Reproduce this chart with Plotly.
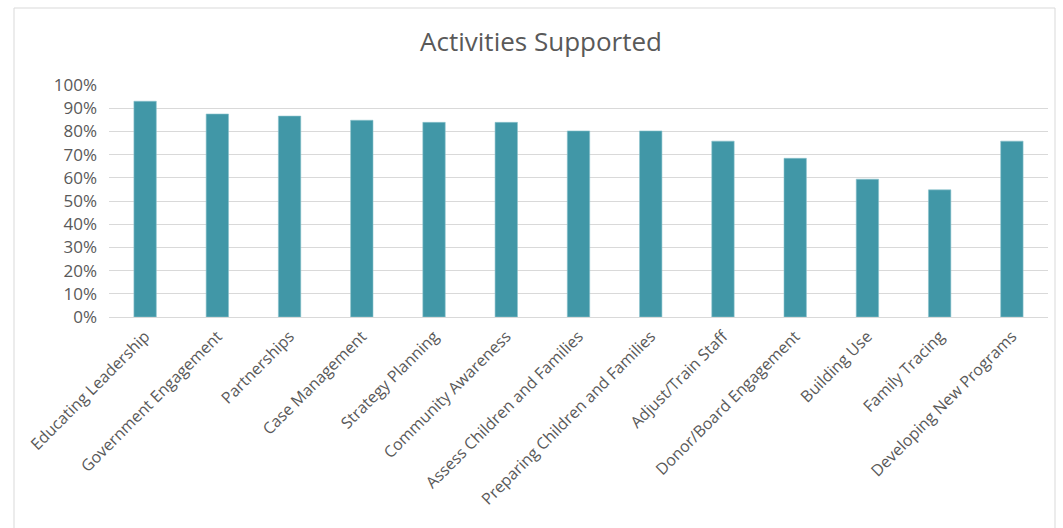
import plotly.graph_objects as go

categories = ["Educating Leadership", "Government Engagement", "Partnerships", "Case Management",
              "Strategy Planning", "Community Awareness", "Assess Children and Families",
              "Preparing Children and Families", "Adjust/Train Staff", "Donor/Board Engagement",
              "Building Use", "Family Tracing", "Developing New Programs"]
values = [0.93, 0.875, 0.866, 0.848, 0.839, 0.839, 0.802, 0.802, 0.758, 0.684, 0.594, 0.548, 0.758]
y_ticks = [i / 10 for i in range(11)]

fig = go.Figure(go.Bar(
    x=categories, y=values,
    marker=dict(color="#4197a7", line=dict(color="#8cc3cd", width=0.6)),
    hoverinfo="x+y",
))

fig.update_layout(
    width=1063, height=528,
    margin=dict(l=109, r=15, t=85, b=211),
    paper_bgcolor="white", plot_bgcolor="white",
    title=dict(text="Activities Supported", x=0.509, xanchor="center", y=0.92, yanchor="middle",
               font=dict(family="Open Sans", size=26, color="#595959")),
    bargap=0.69,
    showlegend=False,
    font=dict(family="Open Sans", color="#595959"),
    shapes=[dict(type="rect", xref="paper", yref="paper",
                 x0=-95/939, x1=1055/939 - 109/939, y0=-220/232, y1=(317 - 8) / 232,
                 line=dict(color="#d9d9d9", width=1), fillcolor="rgba(0,0,0,0)", layer="below")],
)
fig.update_xaxes(tickangle=-45, tickfont=dict(size=16, color="#595959"), showline=False,
                 ticks="", showgrid=False, ticklabelstandoff=6)
fig.update_yaxes(range=[0, 1.0], tickvals=y_ticks, tickformat=".0%",
                 tickfont=dict(size=17, color="#595959"), gridcolor="#d9d9d9", gridwidth=1,
                 zeroline=True, zerolinecolor="#d9d9d9", zerolinewidth=1, showline=False, ticks="",
                 ticklabelstandoff=11)

fig.write_html("out.html")
